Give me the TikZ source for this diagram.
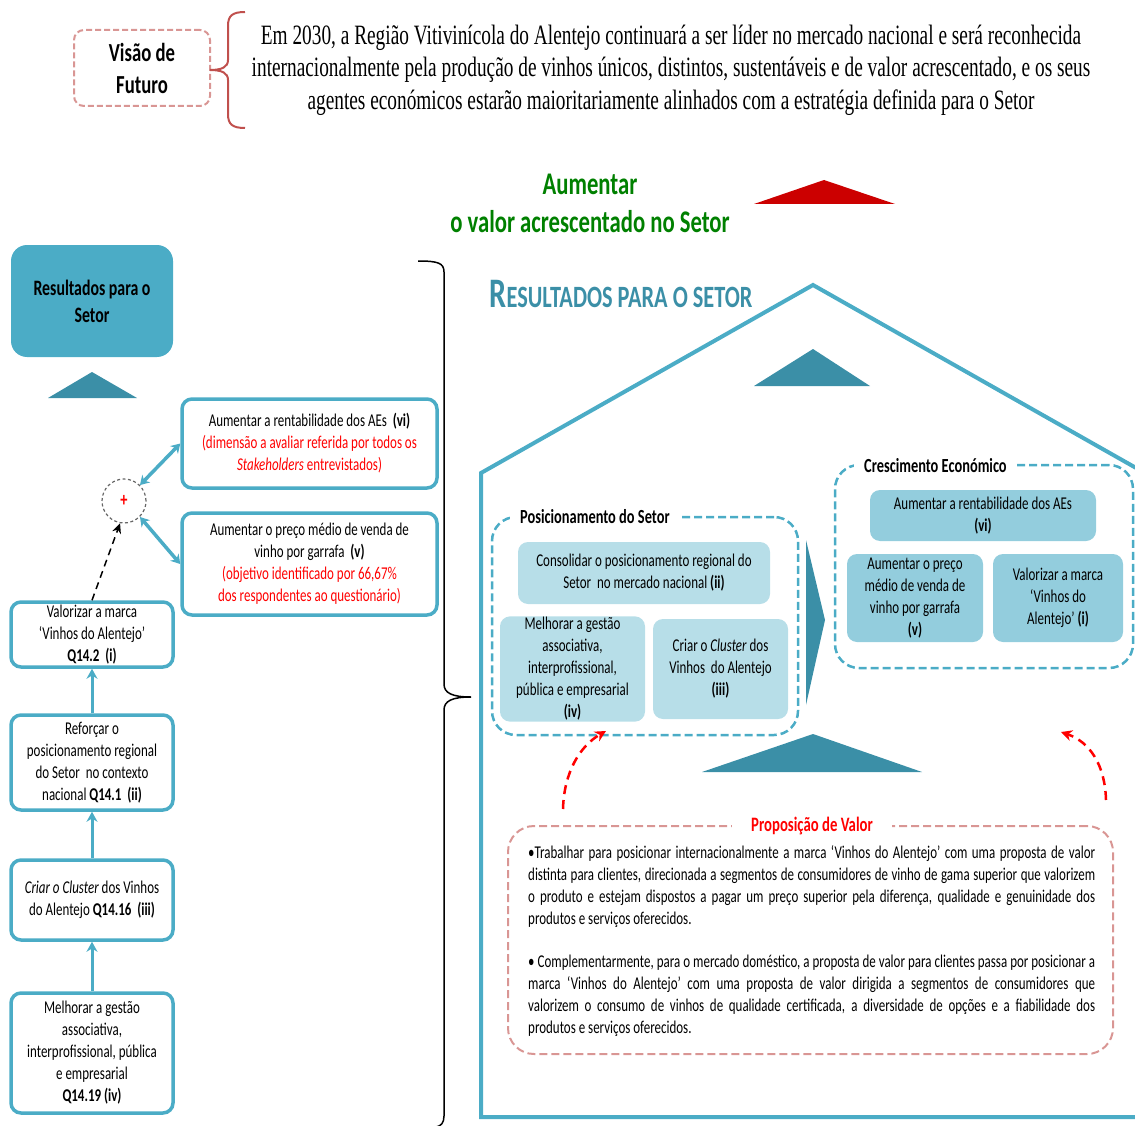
\documentclass[tikz,border=0pt]{standalone}
\usepackage{fontspec}
\setmainfont{Carlito}[FakeStretch=0.72]
\newfontfamily\visionfont{Liberation Serif}[FakeStretch=0.69]
\usepackage{xcolor}
\usetikzlibrary{arrows.meta,positioning,calc}

\definecolor{cTeal}{HTML}{4BACC6}
\definecolor{cDark}{HTML}{3B8FA7}
\definecolor{cLight}{HTML}{B7DEE8}
\definecolor{cMid}{HTML}{93CDDD}
\definecolor{cPink}{HTML}{D99694}
\definecolor{cBrace}{HTML}{C0504D}
\definecolor{cRed}{HTML}{FF0000}
\definecolor{cRedTri}{HTML}{CC0000}
\definecolor{cGreen}{HTML}{008000}
\newcommand{\fsz}[2]{\fontsize{#1}{#2}\selectfont}
\setlength{\parindent}{0pt}

\begin{document}
\begin{tikzpicture}[x=1pt, y=-1pt,
      box/.style={draw=cTeal, line width=3.5pt, rounded corners=10pt, fill=white,
                  align=center, inner sep=2pt, font=\fsz{18}{22}},
      pbox/.style={fill=cLight, rounded corners=10pt, align=center, inner sep=1pt,
                   font=\fsz{18}{22}},
      cbox/.style={pbox, fill=cMid},
      grp/.style={draw=cTeal, line width=2.5pt, dash pattern=on 8pt off 4pt,
                  rounded corners=24pt},
      gtitle/.style={fill=white, anchor=west, inner xsep=10pt,
                     font=\bfseries\fsz{20}{22}},
      arr/.style={-{Stealth[length=10pt,width=11pt]}, draw=cTeal, line width=3pt},
      dbl/.style={{Stealth[length=9pt,width=11pt]}-{Stealth[length=9pt,width=11pt]},
                  draw=cTeal, line width=3.5pt},
      redarr/.style={-{Stealth[length=11pt,width=11pt]}, draw=cRed, line width=2.5pt,
                     dash pattern=on 9pt off 6pt},
      tri/.style={fill=cDark},
    ]
    \useasboundingbox (0,0) rectangle (1135,1126);

    % Vision
    \node[draw=cPink, line width=2pt, dash pattern=on 6pt off 3pt, rounded corners=10pt,
          minimum width=136pt, minimum height=76pt, align=center,
          font=\bfseries\fsz{26}{32}] (vis) at (142,68) {Visão de\\Futuro};
    \draw[cBrace, line width=2pt] (245,12) .. controls (232,12) and (228,16) .. (228,26)
      -- (228,60) .. controls (228,67) and (222,70) .. (210,70)
      .. controls (222,70) and (228,73) .. (228,80) -- (228,114)
      .. controls (228,124) and (232,128) .. (245,128);
    \node[align=center, font=\visionfont\fsz{28}{32.5}] (vtext) at (671,70)
      {Em 2030, a Região Vitivinícola do Alentejo continuará a ser líder no mercado nacional e será reconhecida\\
       internacionalmente pela produção de vinhos únicos, distintos, sustentáveis e de valor acrescentado, e os seus\\
       agentes económicos estarão maioritariamente alinhados com a estratégia definida para o Setor};

    % Goal
    \node[align=center, text=cGreen, font=\bfseries\fsz{31.5}{38}] (goal) at (590,203)
      {Aumentar\\o valor acrescentado no Setor};
    \fill[cRedTri] (754,204) -- (824,180) -- (895,204) -- cycle;

    % Left column
    \node[fill=cTeal, rounded corners=16pt, minimum width=162pt, minimum height=112pt,
          align=center, font=\bfseries\fsz{22}{27}] (res) at (92,301) {Resultados para o\\Setor};
    \fill[tri] (48,398) -- (92,372) -- (137,398) -- cycle;

    \node[box, minimum width=255pt, minimum height=89pt] (rent) at (309.5,443.5)
      {Aumentar a rentabilidade dos AEs~~\textbf{(vi)}\\
       \textcolor{cRed}{(dimensão a avaliar referida por todos os}\\
       \textcolor{cRed}{\textit{Stakeholders} entrevistados)}};
    \node[box, minimum width=255pt, minimum height=102pt] (preco) at (309.5,564)
      {Aumentar o preço médio de venda de\\vinho por garrafa~~\textbf{(v)}\\
       \textcolor{cRed}{(objetivo identificado por 66,67\%}\\
       \textcolor{cRed}{dos respondentes ao questionário)}};
    \node[circle, draw=gray!80!black, line width=1.2pt, dash pattern=on 3pt off 2.5pt,
          minimum size=44pt, text=cRed, font=\bfseries\fsz{20}{22}] (plus) at (124,501) {+};

    \node[box, minimum width=162pt, minimum height=65pt] (valor) at (92,634.5)
      {Valorizar a marca\\‘Vinhos do Alentejo’\\\textbf{Q14.2~~(i)}};
    \node[box, minimum width=162pt, minimum height=95pt] (refor) at (92,762.5)
      {Reforçar o\\posicionamento regional\\do Setor~ no contexto\\nacional \textbf{Q14.1~~(ii)}};
    \node[box, minimum width=162pt, minimum height=80pt] (crit) at (92,900)
      {\textit{Criar o Cluster} dos Vinhos\\do Alentejo \textbf{Q14.16~~(iii)}};
    \node[box, minimum width=162pt, minimum height=120pt] (melh) at (92,1053)
      {Melhorar a gestão\\associativa,\\interprofissional, pública\\e empresarial\\\textbf{Q14.19 (iv)}};

    % Arrows: left column
    \draw[dbl] (plus.north east) -- (rent.west);
    \draw[dbl] (plus.south east) -- (preco.west);
    \draw[-{Stealth[length=10pt,width=9pt]}, line width=1.5pt, dash pattern=on 7pt off 5pt]
      (valor.north) -- (plus.260);
    \draw[arr] (refor.north) -- (valor.south);
    \draw[arr] (crit.north) -- (refor.south);
    \draw[arr] (melh.north) -- (crit.south);

    % Big brace
    \draw[line width=1.5pt] (418,261) .. controls (438,261) and (444,263) .. (444,272)
      -- (444,684) .. controls (444,693) and (452,697) .. (471,697)
      .. controls (452,697) and (444,701) .. (444,710) -- (444,1116)
      .. controls (444,1123) and (441,1126) .. (436,1127);

    % House
    \node[anchor=base west, text=cDark, font=\bfseries\fsz{31}{36}] (title) at (486,307)
      {{\fsz{42}{36}R}ESULTADOS PARA O SETOR};
    \begin{scope}
      \clip (0,0) rectangle (1135,1126);
      \draw[cTeal, line width=4pt, line join=miter] (1160,1117) -- (481,1117) -- (481,473)
        -- (813,285) -- (1145,473) -- (1145,1117);
    \end{scope}
    \fill[tri] (754,386) -- (813,349) -- (870,386) -- cycle;

    % Posicionamento do Setor
    \node[grp, minimum width=306pt, minimum height=218pt] (posg) at (645,626) {};
    \node[gtitle] (post) at (510,517) {Posicionamento do Setor\hspace{22pt}};
    \node[pbox, minimum width=252pt, minimum height=62pt] (cons) at (644,573)
      {Consolidar o posicionamento regional do\\Setor~ no mercado nacional \textbf{(ii)}};
    \node[pbox, minimum width=145pt, minimum height=100pt] (mel2) at (572.5,669)
      {Melhorar a gestão\\associativa,\\interprofissional,\\pública e empresarial\\\textbf{(iv)}};
    \node[pbox, minimum width=135pt, minimum height=100pt] (clus) at (720.5,669)
      {Criar o \textit{Cluster} dos\\Vinhos~ do Alentejo\\\textbf{(iii)}};
    \fill[tri] (806,540) -- (825,620) -- (806,705) -- cycle;

    % Crescimento Economico
    \node[grp, minimum width=298pt, minimum height=203pt] (creg) at (984,566.5) {};
    \node[gtitle] (cret) at (854,466) {Crescimento Económico\hspace{12pt}};
    \node[cbox, minimum width=226pt, minimum height=51pt] (ae) at (983,515.5)
      {Aumentar a rentabilidade dos AEs\\\textbf{(vi)}};
    \node[cbox, minimum width=136pt, minimum height=88pt] (pm) at (915,598)
      {Aumentar o preço\\médio de venda de\\vinho por garrafa\\\textbf{(v)}};
    \node[cbox, minimum width=130pt, minimum height=88pt] (vm) at (1058,598)
      {Valorizar a marca\\‘Vinhos do\\Alentejo’ \textbf{(i)}};

    \fill[tri] (702,772) -- (813,734) -- (922,772) -- cycle;

    % Proposicao de Valor
    \node[draw=cPink, line width=2pt, dash pattern=on 8pt off 4pt, rounded corners=26pt,
          minimum width=605pt, minimum height=228pt] (prop) at (810.5,940) {};
    \node[fill=white, minimum width=160pt, text=cRed, font=\bfseries\fsz{20.5}{22}]
      (propt) at (812,826) {Proposição de Valor};
    \node[anchor=north west, text width=567pt, align=justify, inner sep=0pt,
          font=\fsz{18}{22}] (ptext) at (528,845)
      {•Trabalhar para posicionar internacionalmente a marca ‘Vinhos do Alentejo’ com uma proposta de valor\linebreak
       distinta para clientes, direcionada a segmentos de consumidores de vinho de gama superior que valorizem\linebreak
       o produto e estejam dispostos a pagar um preço superior pela diferença, qualidade e genuinidade dos\linebreak
       produtos e serviços oferecidos.\par\vspace{21pt}
       • Complementarmente, para o mercado doméstico, a proposta de valor para clientes passa por posicionar a\linebreak
       marca ‘Vinhos do Alentejo’ com uma proposta de valor dirigida a segmentos de consumidores que\linebreak
       valorizem o consumo de vinhos de qualidade certificada, a diversidade de opções e a fiabilidade dos\linebreak
       produtos e serviços oferecidos.};

    % Arrows: value proposition
    \coordinate (pvL) at (563,809);
    \coordinate (tipL) at (606,731);
    \coordinate (pvR) at (1106,800);
    \coordinate (tipR) at (1061,732);
    \draw[redarr] (pvL) .. controls (564,772) and (580,746) .. (tipL);
    \draw[redarr] (pvR) .. controls (1105,765) and (1090,742) .. (tipR);

    \end{tikzpicture}
\end{document}
